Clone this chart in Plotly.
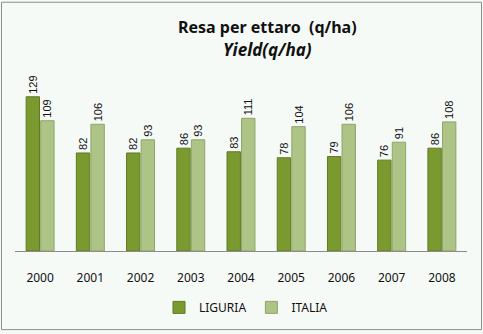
import plotly.graph_objects as go

years = ["2000", "2001", "2002", "2003", "2004", "2005", "2006", "2007", "2008"]
liguria = [129, 82, 82, 86, 83, 78, 79, 76, 86]
italia = [109, 106, 93, 93, 111, 104, 106, 91, 108]

W, H = 483, 334
ml, mr, mt, mb = 15, 16, 70, 81
pw, ph = W - ml - mr, H - mt - mb

def px2x(p):
    return (p - ml) / pw

def py2y(p):
    return 1 - (p - mt) / ph

fig = go.Figure()
fig.add_trace(go.Bar(
    x=years, y=liguria, name="LIGURIA",
    marker=dict(color="#7A9A30", line=dict(color="#5F7A22", width=1)),
    text=[str(v) for v in liguria], textposition="outside", textangle=-90,
    textfont=dict(family="Liberation Sans", size=11, color="#111"),
    cliponaxis=False,
))
fig.add_trace(go.Bar(
    x=years, y=italia, name="ITALIA",
    marker=dict(color="#AEC386", line=dict(color="#8FA46A", width=1)),
    text=[str(v) for v in italia], textposition="outside", textangle=-90,
    textfont=dict(family="Liberation Sans", size=11, color="#111"),
    cliponaxis=False,
))

fig.update_layout(
    width=W, height=H,
    margin=dict(l=ml, r=mr, t=mt, b=mb),
    paper_bgcolor="#F6FAF7", plot_bgcolor="#F6FAF7",
    barmode="group", bargap=0.42, bargroupgap=0.08,
    uniformtext=dict(minsize=11, mode="show"),
    showlegend=True,
    legend=dict(orientation="h", x=px2x(246), xanchor="center", y=py2y(310), yanchor="middle",
                font=dict(family="Noto Sans", size=12, color="#111"), itemwidth=30,
                traceorder="normal", bgcolor="rgba(0,0,0,0)"),
    xaxis=dict(showline=True, linecolor="#8C8C8C", linewidth=1, ticks="", showgrid=False,
               tickfont=dict(family="Noto Sans", size=12, color="#111"), ticklabelstandoff=16),
    yaxis=dict(range=[0, 151.4], visible=False, showgrid=False),
    font=dict(family="Noto Sans"),
)

fig.add_annotation(xref="paper", yref="paper", x=px2x(267), y=py2y(27),
                   text="<b>Resa per ettaro  (q/ha)</b>", showarrow=False,
                   font=dict(family="Noto Sans", size=16, color="#111"),
                   xanchor="center", yanchor="middle")
fig.add_annotation(xref="paper", yref="paper", x=px2x(267), y=py2y(49),
                   text="<b><i>Yield(q/ha)</i></b>", showarrow=False,
                   font=dict(family="Noto Sans", size=17, color="#111"),
                   xanchor="center", yanchor="middle")

fig.add_shape(type="rect", xref="paper", yref="paper",
              x0=px2x(1.5), x1=px2x(481.5), y0=py2y(332.5), y1=py2y(1.5),
              line=dict(color="#8C8C8C", width=1), layer="below")

fig.write_html("out.html")
